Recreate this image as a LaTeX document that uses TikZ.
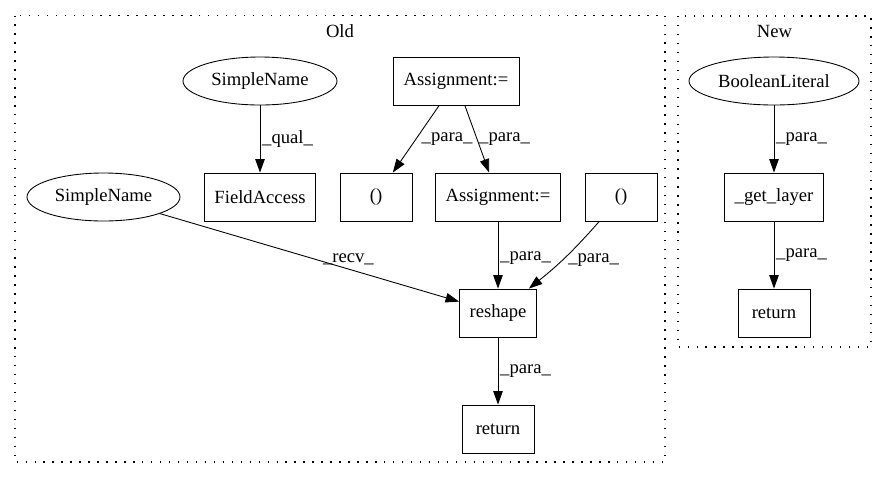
\documentclass[tikz,border=0pt]{standalone}
\usepackage{fontspec}
\setmainfont{Liberation Serif}
\usetikzlibrary{shapes.geometric, arrows.meta, positioning}

\begin{document}
\begin{tikzpicture}[
  font=\fontsize{10.6}{12}\selectfont,
  box/.style={draw, line width=0.5pt, minimum width=1.44cm, minimum height=0.96cm,
              align=center},
  oval/.style={draw, ellipse, line width=0.5pt, minimum height=0.96cm, inner sep=1pt},
  arr/.style={-{Triangle[length=0.27cm, width=0.19cm]}, line width=0.5pt},
  lbl/.style={anchor=west, inner sep=1pt},
  cluster/.style={draw, line width=0.6pt, dash pattern=on 0.8pt off 4.3pt},
]
  \useasboundingbox (0,0) rectangle (17.74,-9.6);

  % Clusters
  \draw[cluster] (0.3,-0.31) rectangle (13.3,-9.24);
  \draw[cluster] (13.56,-0.32) rectangle (17.42,-6.94);
  \node (oldlabel) at (6.8,-0.62) {Old};
  \node (newlabel) at (15.49,-0.62) {New};

  % Old
  \node[oval, minimum width=3.08cm] (qualname) at (5.2,-1.62) {SimpleName};
  \node[box, minimum width=2.52cm] (assigntop) at (9.12,-1.62) {Assignment:=};
  \node[box, minimum width=2.22cm] (fieldacc) at (5.2,-3.94) {FieldAccess};
  \node[box] (parenleft) at (7.52,-3.94) {()};
  \node[box, minimum width=2.5cm] (assignmid) at (9.96,-3.94) {Assignment:=};
  \node[box] (parenright) at (12.42,-3.94) {()};
  \node[oval, minimum width=3.06cm] (recvname) at (2.07,-3.94) {SimpleName};
  \node[box, minimum width=1.54cm] (reshape) at (9.96,-6.26) {reshape};
  \node[box] (oldreturn) at (9.96,-8.58) {return};

  % New
  \node[oval, minimum width=3.4cm] (boollit) at (15.48,-1.62) {BooleanLiteral};
  \node[box, minimum width=1.98cm] (getlayer) at (15.48,-3.94) {\_get\_layer};
  \node[box] (newreturn) at (15.48,-6.26) {return};

  % Connections
  \draw[arr] (qualname) -- node[lbl] {\_qual\_} (fieldacc);
  \draw[arr] (assigntop) -- node[lbl, xshift=2pt] {\_para\_} (parenleft);
  \draw[arr] (assigntop) -- node[lbl] {\_para\_} (assignmid);
  \draw[arr] (assignmid) -- node[lbl, pos=0.55] {\_para\_} (reshape);
  \draw[arr] (parenright) to[bend left=5] node[lbl, pos=0.55, xshift=2pt] {\_para\_} (reshape);
  \draw[arr] (recvname) -- node[pos=0.63, above, inner sep=2pt] {\_recv\_} (reshape);
  \draw[arr] (reshape) -- node[lbl] {\_para\_} (oldreturn);
  \draw[arr] (boollit) -- node[lbl] {\_para\_} (getlayer);
  \draw[arr] (getlayer) -- node[lbl] {\_para\_} (newreturn);
\end{tikzpicture}
\end{document}
